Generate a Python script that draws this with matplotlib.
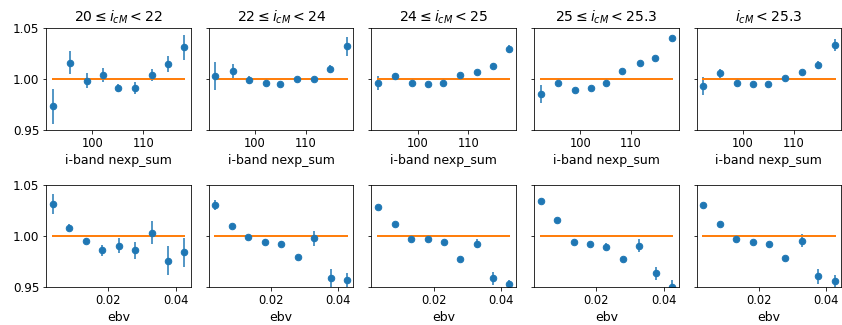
import numpy as np
import matplotlib
matplotlib.use('Agg')
import matplotlib.pyplot as plt

# bin centres
nexp_bins = [92.2, 95.6, 98.9, 102.1, 105.0, 108.3, 111.7, 114.8, 118.1]
ebv_bins = [0.0035, 0.0084, 0.0133, 0.0182, 0.0230, 0.0279, 0.0328, 0.0377, 0.0425]

titles = [r'$20 \leq i_{cM} < 22$', r'$22 \leq i_{cM} < 24$',
          r'$24 \leq i_{cM} < 25$', r'$25 \leq i_{cM} < 25.3$',
          r'$i_{cM} < 25.3$']

# ratio vs nexp_sum, one list per magnitude bin
nexp_ratio = [
    [0.973, 1.0156, 0.998, 1.0038, 0.9907, 0.9907, 1.0038, 1.0146, 1.0307],
    [1.0025, 1.0074, 0.999, 0.9956, 0.9946, 1.000, 1.000, 1.0097, 1.0316],
    [0.9956, 1.0028, 0.9956, 0.9943, 0.9956, 1.0038, 1.0064, 1.0123, 1.0293],
    [0.9848, 0.9956, 0.9887, 0.991, 0.9956, 1.0074, 1.0156, 1.0202, 1.0402],
    [0.993, 1.0051, 0.9956, 0.9946, 0.9946, 1.001, 1.0064, 1.0133, 1.0333],
]
nexp_err = [
    [0.017, 0.0115, 0.0075, 0.007, 0.004, 0.006, 0.006, 0.008, 0.012],
    [0.014, 0.007, 0.004, 0.002, 0.002, 0.002, 0.002, 0.004, 0.009],
    [0.007, 0.003, 0.002, 0.002, 0.002, 0.002, 0.002, 0.003, 0.004],
    [0.009, 0.002, 0.002, 0.002, 0.002, 0.002, 0.002, 0.002, 0.002],
    [0.0085, 0.004, 0.002, 0.002, 0.002, 0.002, 0.002, 0.004, 0.006],
]

# ratio vs ebv
ebv_ratio = [
    [1.0312, 1.0081, 0.9951, 0.986, 0.9906, 0.986, 1.0032, 0.9756, 0.9838],
    [1.0302, 1.0094, 0.999, 0.9945, 0.9919, 0.9792, 0.9977, 0.9584, 0.9571],
    [1.0279, 1.0117, 0.9968, 0.9968, 0.9942, 0.977, 0.9925, 0.9584, 0.9526],
    [1.0338, 1.0153, 0.9942, 0.9919, 0.9896, 0.977, 0.9906, 0.9633, 0.9497],
    [1.0302, 1.0117, 0.9968, 0.9942, 0.9919, 0.9782, 0.9955, 0.9607, 0.9558],
]
ebv_err = [
    [0.0097, 0.0036, 0.003, 0.0055, 0.0078, 0.0084, 0.0114, 0.0143, 0.0143],
    [0.005, 0.002, 0.002, 0.002, 0.003, 0.002, 0.0076, 0.0094, 0.007],
    [0.002, 0.002, 0.002, 0.002, 0.002, 0.002, 0.004, 0.0065, 0.0045],
    [0.002, 0.002, 0.002, 0.002, 0.003, 0.002, 0.006, 0.006, 0.007],
    [0.002, 0.002, 0.002, 0.002, 0.002, 0.002, 0.0065, 0.0073, 0.006],
]

plt.rcParams.update({'xtick.labelsize': 11.5, 'ytick.labelsize': 12,
                     'axes.labelsize': 12.5, 'axes.titlesize': 14})

fig, axes = plt.subplots(2, 5, figsize=(842 / 72, 325 / 72), dpi=72,
                         sharey=True)
fig.subplots_adjust(left=0.055, right=0.999, top=0.915, bottom=0.117,
                    wspace=0.125, hspace=0.54)

for i in range(5):
    ax = axes[0, i]
    ax.errorbar(nexp_bins, nexp_ratio[i], yerr=nexp_err[i], fmt='o',
                color='C0', ms=6.5)
    ax.plot([nexp_bins[0], nexp_bins[-1]], [1, 1], color='C1', lw=2)
    ax.set_title(titles[i])
    ax.set_xlabel('i-band nexp_sum')

    ax = axes[1, i]
    ax.errorbar(ebv_bins, ebv_ratio[i], yerr=ebv_err[i], fmt='o',
                color='C0', ms=6.5)
    ax.plot([ebv_bins[0], ebv_bins[-1]], [1, 1], color='C1', lw=2)
    ax.set_xlabel('ebv')

axes[0, 0].set_ylim(0.95, 1.05)
axes[0, 0].set_yticks([0.95, 1.00, 1.05])

fig.savefig('out.png', dpi=72)
